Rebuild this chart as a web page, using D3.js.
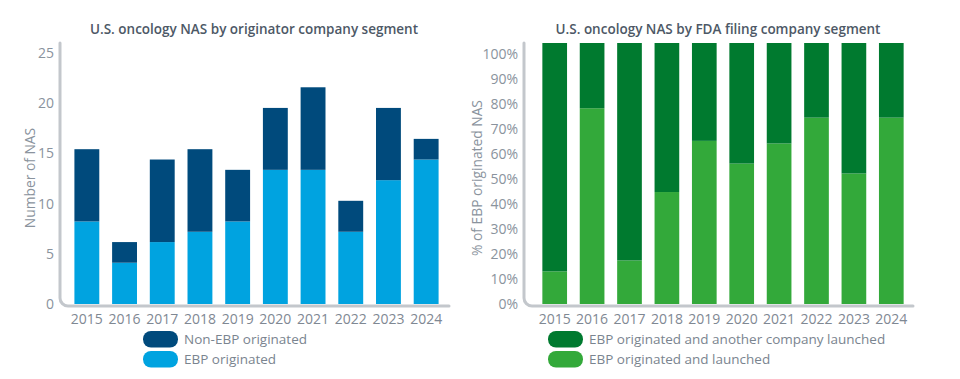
<!DOCTYPE html>
<html>
<head>
<meta charset="utf-8">
<script src="https://cdn.jsdelivr.net/npm/d3@7"></script>
<style>
  body { margin: 0; background: #fff; }
  svg { display: block; font-family: 'Open Sans', sans-serif; }
</style>
</head>
<body>
<div id="chart"></div>
<script>
const years = ['2015', '2016', '2017', '2018', '2019', '2020', '2021', '2022', '2023', '2024']
const ebpOriginated = [8, 4, 6, 7, 8, 13, 13, 7, 12, 14]
const nonEbpOriginated = [7, 2, 8, 8, 5, 6, 8, 3, 7, 2]
// share of EBP originated NAS that EBP also launched, in %
const ebpLaunched = [12.5, 75, 16.7, 42.9, 62.5, 53.8, 61.5, 71.4, 50, 71.4]
const countTicks = [0, 5, 10, 15, 20, 25]
const pctTicks = [0, 10, 20, 30, 40, 50, 60, 70, 80, 90, 100]

const W = 960, H = 379
const axisColor = '#c3c7cc'
const labelColor = '#8a939d'

const svg = d3.select('#chart')
	.append('svg')
	.attr('width', W)
	.attr('height', H)

const panels = [
	{
		title: 'U.S. oncology NAS by originator company segment',
		titleX: 254,
		yTitle: 'Number of NAS',
		yTitleX: 30,
		axisX: 60, axisEnd: 449,
		band: [68, 445],
		yBar: d3.scaleLinear().domain([0, 25]).range([304, 46]),
		yTick: d3.scaleLinear().domain([0, 25]).range([304, 53]),
		ticks: countTicks,
		fmt: d => d,
		series: [
			{ name: 'EBP originated', color: '#00a3e0', vals: ebpOriginated },
			{ name: 'Non-EBP originated', color: '#004a7c', vals: nonEbpOriginated }
		],
		legendX: 143
	},
	{
		title: 'U.S. oncology NAS by FDA filing company segment',
		titleX: 718,
		yTitle: '% of EBP originated NAS',
		yTitleX: 477,
		axisX: 524, axisEnd: 913,
		band: [536, 910],
		yBar: d3.scaleLinear().domain([0, 100]).range([304, 43]),
		yTick: d3.scaleLinear().domain([0, 100]).range([304, 54]),
		ticks: pctTicks,
		fmt: d => d + '%',
		series: [
			{ name: 'EBP originated and launched', color: '#33a93a', vals: ebpLaunched },
			{ name: 'EBP originated and another company launched', color: '#007a2f', vals: ebpLaunched.map(v => 100 - v) }
		],
		legendX: 548
	}
]

panels.forEach(p => {
	const g = svg.append('g')

	const x = d3.scaleBand()
		.domain(years)
		.range(p.band)
		.paddingInner(0.34)
		.paddingOuter(0.17)

	g.append('text')
		.attr('x', p.titleX)
		.attr('y', 34)
		.attr('text-anchor', 'middle')
		.attr('font-size', 13.5)
		.attr('font-weight', 600)
		.attr('fill', '#4d5866')
		.text(p.title)

	// stacked bars
	const stacked = years.map((yr, i) => {
		let base = 0
		return p.series.map(s => {
			const d = { year: yr, y0: base, y1: base + s.vals[i], color: s.color }
			base += s.vals[i]
			return d
		})
	}).flat()

	g.selectAll('rect.bar')
		.data(stacked)
		.join('rect')
		.attr('class', 'bar')
		.attr('x', d => x(d.year))
		.attr('width', x.bandwidth())
		.attr('y', d => p.yBar(d.y1))
		.attr('height', d => p.yBar(d.y0) - p.yBar(d.y1))
		.attr('fill', d => d.color)

	// axis line with rounded corner
	const bottom = 306, top = 43, r = 8
	const path = d3.path()
	path.moveTo(p.axisX, top)
	path.lineTo(p.axisX, bottom - r)
	path.arcTo(p.axisX, bottom, p.axisX + r, bottom, r)
	path.lineTo(p.axisEnd, bottom)
	g.append('path')
		.attr('d', path.toString())
		.attr('fill', 'none')
		.attr('stroke', axisColor)
		.attr('stroke-width', 3)
		.attr('stroke-linecap', 'round')

	// y tick labels
	const yAxis = d3.axisLeft(p.yTick)
		.tickValues(p.ticks)
		.tickFormat(p.fmt)
		.tickSize(0)
		.tickPadding(0)
	g.append('g')
		.attr('transform', `translate(${p.axisX - 6},0)`)
		.call(yAxis)
		.call(a => a.select('.domain').remove())
		.selectAll('text')
		.attr('font-family', 'Open Sans, sans-serif')
		.attr('font-size', 14)
		.attr('fill', labelColor)

	// x tick labels
	const xAxis = d3.axisBottom(x).tickSize(0).tickPadding(0)
	g.append('g')
		.attr('transform', `translate(0,314)`)
		.call(xAxis)
		.call(a => a.select('.domain').remove())
		.selectAll('text')
		.attr('font-family', 'Open Sans, sans-serif')
		.attr('font-size', 14)
		.attr('fill', '#7f8893')

	g.append('text')
		.attr('transform', `translate(${p.yTitleX},178) rotate(-90)`)
		.attr('text-anchor', 'middle')
		.attr('dy', '0.35em')
		.attr('font-size', 13.8)
		.attr('fill', labelColor)
		.text(p.yTitle)

	// legend, top series first
	const leg = g.append('g')
		.selectAll('g')
		.data(p.series.slice().reverse())
		.join('g')
		.attr('transform', (d, i) => `translate(${p.legendX},${331 + i * 20})`)
	leg.append('rect')
		.attr('width', 35)
		.attr('height', 16.5)
		.attr('rx', 8)
		.attr('fill', d => d.color)
	leg.append('text')
		.attr('x', 41)
		.attr('y', 8.5)
		.attr('dy', '0.35em')
		.attr('font-size', 13.5)
		.attr('fill', '#7a848f')
		.text(d => d.name)
})
</script>
</body>
</html>
